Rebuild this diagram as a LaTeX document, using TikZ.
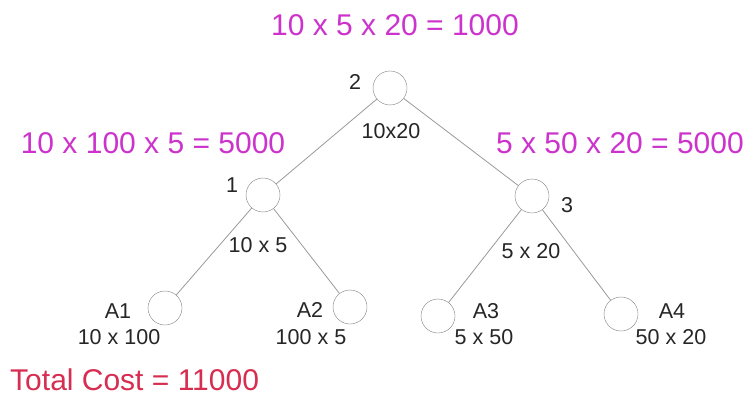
\documentclass[tikz,border=0pt]{standalone}
\usepackage{fontspec}
\setmainfont{Liberation Sans}
\usetikzlibrary{positioning}
\definecolor{costpink}{RGB}{204,51,204}
\definecolor{totalred}{RGB}{214,45,80}
\tikzset{vert/.style = {draw=black!50, circle, minimum size=34pt, inner sep=0}}
\tikzset{dims/.style = {font=\fontsize{21.5}{23}\selectfont, text=black!85, inner sep=0}}
\tikzset{cost/.style = {font=\fontsize{30}{32}\selectfont, text=costpink, inner sep=0}}
\tikzset{edge/.style = {draw=black!40, line width=0.8pt}}

\begin{document}
\begin{tikzpicture}[x=1pt, y=-1pt]
  \useasboundingbox (0,0) rectangle (746,414);
  % split vertices
  \node[vert] (v2) at (390,88) {};
  \node[vert] (v1) at (263,195) {};
  \node[vert] (v3) at (532,196) {};
  % matrices
  \node[vert] (a1) at (165,308) {};
  \node[vert] (a2) at (350,307) {};
  \node[vert] (a3) at (438,316) {};
  \node[vert] (a4) at (621,314) {};

  % tree edges
  \draw[edge] (v2) -- (v1);
  \draw[edge] (v2) -- (v3);
  \draw[edge] (v1) -- (a1);
  \draw[edge] (v1) -- (a2);
  \draw[edge] (v3) -- (a3);
  \draw[edge] (v3) -- (a4);

  % vertex labels
  \node[dims] (n2) at (355,82) {2};
  \node[dims] (n1) at (232,185) {1};
  \node[dims] (n3) at (567,205) {3};
  \node[dims] (l1) at (118,311) {A1};
  \node[dims] (l2) at (310,310) {A2};
  \node[dims] (l3) at (486,311) {A3};
  \node[dims] (l4) at (672,311) {A4};

  % dimensions
  \node[dims] (d2) at (391,131) {10x20};
  \node[dims] (d1) at (258,245) {10 x 5};
  \node[dims] (d3) at (531,251) {5 x 20};
  \node[dims] (m1) at (119,337) {10 x 100};
  \node[dims] (m2) at (311,337) {100 x 5};
  \node[dims] (m3) at (484,337) {5 x 50};
  \node[dims] (m4) at (671,337) {50 x 20};

  % costs
  \node[cost] (c2) at (395,25) {10 x 5 x 20 = 1000};
  \node[cost] (c1) at (153,143) {10 x 100 x 5 = 5000};
  \node[cost] (c3) at (620,143) {5 x 50 x 20 = 5000};
  \node[cost, text=totalred, anchor=west] (total) at (10,380) {Total Cost = 11000};
\end{tikzpicture}
\end{document}
